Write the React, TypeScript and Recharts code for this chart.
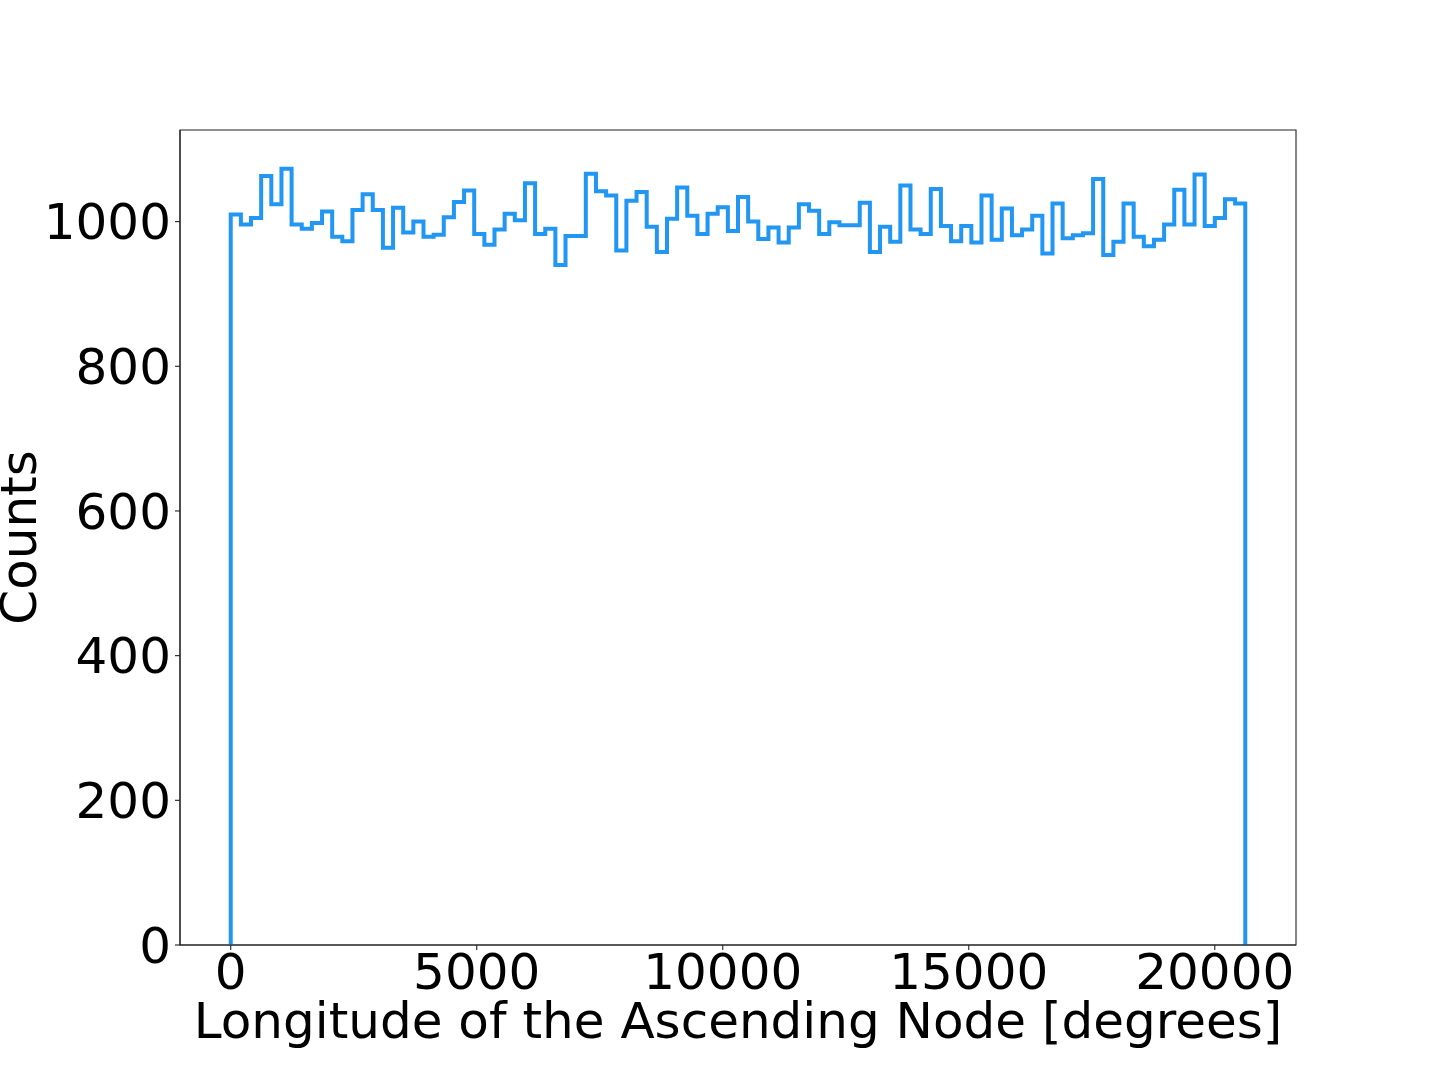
import { ComposedChart, Line, XAxis, YAxis, Label, ReferenceArea } from "recharts";

const BLUE = "#2196F3";
const SPINE = "#222";
const FONT = "'DejaVu Sans', sans-serif";

// histogram: 100 equal bins from 0 to X_MAX
const X_MAX = 20620;
const COUNTS = [
  1010, 996, 1005, 1063, 1024, 1073, 996, 990, 998, 1014,
  979, 973, 1016, 1038, 1016, 964, 1019, 985, 1000, 979,
  982, 1006, 1027, 1043, 983, 968, 989, 1011, 1002, 1053,
  983, 990, 940, 980, 980, 1066, 1042, 1036, 960, 1029,
  1041, 993, 958, 1004, 1047, 1008, 983, 1011, 1020, 987,
  1034, 1000, 976, 992, 971, 992, 1024, 1015, 983, 999,
  995, 995, 1026, 958, 993, 972, 1050, 989, 983, 1045,
  994, 973, 994, 971, 1036, 975, 1018, 981, 989, 1008,
  956, 1025, 977, 981, 984, 1059, 954, 972, 1025, 979,
  966, 975, 996, 1044, 996, 1065, 994, 1005, 1031, 1025,
];
const X_TICKS = [0, 5000, 10000, 15000, 20000];
const Y_TICKS = [0, 200, 400, 600, 800, 1000];

const binW = X_MAX / COUNTS.length;
const pad = X_MAX * 0.05;
const X_DOMAIN = [-pad, X_MAX + pad];
const Y_DOMAIN = [0, Math.max(...COUNTS) * 1.05];

// step outline: up at 0, across each bin, down at the last edge
const steps = [
  { x: 0, y: 0 },
  ...COUNTS.map((c, i) => ({ x: i * binW, y: c })),
  { x: X_MAX, y: 0 },
];

const tickStyle = { fontSize: 50, fill: "#000", fontFamily: FONT };

export default function App() {
  return (
    <div style={{ position: "absolute", left: 0, top: 0, background: "#fff" }}>
      <ComposedChart
        width={1440}
        height={1080}
        data={steps}
        margin={{ top: 130, right: 144, bottom: 0, left: 0 }}
      >
        <XAxis
          xAxisId="b"
          dataKey="x"
          type="number"
          domain={X_DOMAIN}
          allowDataOverflow
          ticks={X_TICKS}
          interval={0}
          height={135}
          tick={tickStyle}
          tickSize={5}
          tickMargin={3}
          axisLine={{ stroke: SPINE, strokeWidth: 1.1 }}
          tickLine={{ stroke: SPINE, strokeWidth: 1.1 }}
        >
          <Label
            value="Longitude of the Ascending Node [degrees]"
            position="insideBottom"
            offset={42}
            style={{ fontSize: 50, fill: "#000", fontFamily: FONT }}
          />
        </XAxis>
        <YAxis
          yAxisId="l"
          type="number"
          domain={Y_DOMAIN}
          allowDataOverflow
          ticks={Y_TICKS}
          interval={0}
          width={180}
          tick={tickStyle}
          tickSize={5}
          tickMargin={4}
          axisLine={{ stroke: SPINE, strokeWidth: 1.1 }}
          tickLine={{ stroke: SPINE, strokeWidth: 1.1 }}
        >
          <Label
            content={(p: any) => {
              const vb = p.viewBox || { x: 0, y: 130, width: 180, height: 815 };
              const cx = vb.x + 36;
              const cy = vb.y + vb.height / 2;
              return (
                <text
                  x={cx}
                  y={cy}
                  transform={`rotate(-90 ${cx} ${cy})`}
                  textAnchor="middle"
                  style={{ fontSize: 50, fill: "#000", fontFamily: FONT }}
                >
                  Counts
                </text>
              );
            }}
          />
        </YAxis>
        {/* axes frame (top and right spines) */}
        <ReferenceArea
          xAxisId="b"
          yAxisId="l"
          x1={X_DOMAIN[0]}
          x2={X_DOMAIN[1]}
          y1={Y_DOMAIN[0]}
          y2={Y_DOMAIN[1]}
          fill="none"
          fillOpacity={0}
          stroke={SPINE}
          strokeWidth={1.1}
          strokeOpacity={1}
        />
        <Line
          xAxisId="b"
          yAxisId="l"
          type="stepAfter"
          dataKey="y"
          stroke={BLUE}
          strokeWidth={4}
          strokeLinejoin="miter"
          dot={false}
          activeDot={false}
          isAnimationActive={false}
        />
      </ComposedChart>
    </div>
  );
}
